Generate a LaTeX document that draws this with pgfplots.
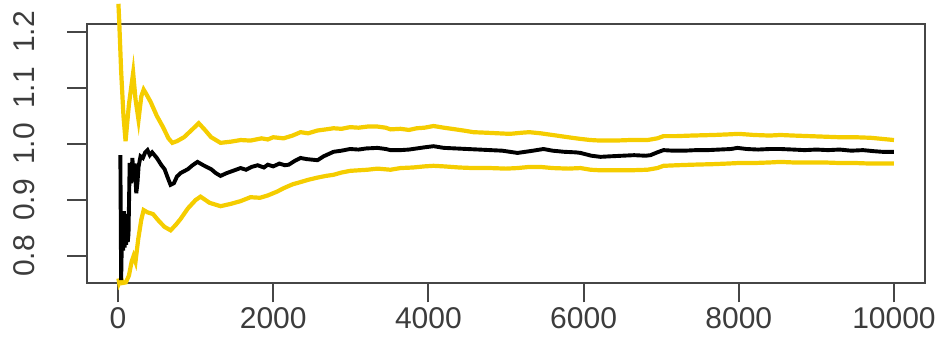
\documentclass[border=0pt]{standalone}
\usepackage{fontspec}
\setmainfont{Liberation Sans}
\usepackage{pgfplots}
\pgfplotsset{compat=1.18}
\definecolor{rgold}{RGB}{245,205,0}
\definecolor{axgray}{RGB}{70,70,70}
\definecolor{labgray}{RGB}{60,60,60}
\begin{document}
\begin{tikzpicture}
\begin{axis}[
  at={(0,0)}, anchor=south west,
  scale only axis, width=279.33pt, height=86.33pt,
  xmin=-400, xmax=10400, ymin=0.752, ymax=1.214,
  axis line style={draw=axgray, line width=0.7pt},
  xtick={0,2000,4000,6000,8000,10000},
  xticklabels={0,2000,4000,6000,8000,10000},
  ytick={0.8,0.9,1.0,1.1,1.2},
  yticklabels={0.8,0.9,1.0,1.1,1.2},
  tick align=outside, tick pos=left,
  major tick length=6.5pt,
  tick style={draw=axgray, line width=0.7pt},
  /pgf/number format/assume math mode=true,
  clip=false,
  xticklabel style={font=\fontsize{10}{12}\selectfont, text=labgray, anchor=north, yshift=2pt},
  yticklabel style={font=\fontsize{10}{12}\selectfont, text=labgray, rotate=90, anchor=south, xshift=0pt, yshift=7.5pt},
]
% upper band
\addplot[rgold, line width=1.4pt] coordinates {
(5,1.25)(15,1.22)(40,1.13)(70,1.05)(97,1.005)(140,1.07)(195,1.127)(225,1.08)(264,1.043)(300,1.085)(330,1.097)(360,1.09)(420,1.075)(500,1.05)(580,1.03)(650,1.01)(700,1.002)(760,1.005)(850,1.012)(950,1.025)(1040,1.037)(1120,1.025)(1200,1.012)(1321,1.002)(1450,1.004)(1580,1.007)(1707,1.006)(1850,1.01)(1930,1.008)(2000,1.012)(2133,1.01)(2250,1.015)(2352,1.021)(2450,1.019)(2571,1.024)(2680,1.026)(2777,1.028)(2880,1.027)(2990,1.03)(3100,1.029)(3215,1.031)(3344,1.031)(3450,1.029)(3512,1.026)(3640,1.027)(3750,1.025)(3850,1.028)(3950,1.029)(4066,1.032)(4200,1.029)(4350,1.026)(4450,1.024)(4581,1.021)(4750,1.02)(4900,1.019)(5050,1.018)(5200,1.02)(5300,1.021)(5445,1.019)(5600,1.016)(5750,1.013)(5850,1.011)(5960,1.009)(6089,1.007)(6218,1.006)(6400,1.006)(6600,1.007)(6823,1.007)(6950,1.01)(7030,1.014)(7200,1.014)(7400,1.015)(7674,1.016)(7850,1.017)(8000,1.018)(8200,1.016)(8400,1.015)(8537,1.016)(8700,1.015)(8900,1.014)(9100,1.013)(9300,1.012)(9500,1.012)(9700,1.011)(9850,1.009)(10000,1.007)
};
% lower band
\addplot[rgold, line width=1.4pt] coordinates {
(5,0.76)(15,0.752)(40,0.76)(60,0.752)(100,0.753)(140,0.765)(175,0.79)(200,0.80)(225,0.79)(260,0.83)(300,0.865)(330,0.882)(380,0.878)(450,0.875)(530,0.862)(600,0.852)(677,0.846)(740,0.855)(805,0.866)(900,0.885)(1000,0.9)(1063,0.906)(1180,0.895)(1321,0.889)(1450,0.893)(1579,0.898)(1707,0.905)(1830,0.904)(1927,0.908)(2050,0.915)(2133,0.921)(2250,0.928)(2352,0.932)(2450,0.936)(2571,0.94)(2680,0.943)(2777,0.945)(2880,0.949)(2990,0.952)(3100,0.953)(3215,0.954)(3344,0.956)(3512,0.954)(3640,0.957)(3800,0.958)(3950,0.96)(4066,0.961)(4200,0.96)(4400,0.958)(4581,0.957)(4800,0.957)(5000,0.956)(5148,0.957)(5300,0.959)(5445,0.959)(5600,0.957)(5800,0.956)(5960,0.957)(6089,0.954)(6218,0.953)(6400,0.953)(6600,0.953)(6823,0.954)(6950,0.957)(7030,0.961)(7200,0.962)(7400,0.963)(7674,0.964)(7850,0.965)(8000,0.966)(8200,0.966)(8400,0.967)(8537,0.968)(8700,0.967)(8900,0.967)(9100,0.967)(9300,0.966)(9500,0.966)(9700,0.965)(9850,0.965)(10000,0.965)
};
% running mean
\addplot[black, line width=1.3pt] coordinates {
(30,0.98)(40,0.757)(55,0.87)(65,0.81)(75,0.88)(85,0.815)(95,0.875)(105,0.82)(115,0.87)(125,0.825)(135,0.84)(150,0.966)(170,0.93)(185,0.975)(200,0.94)(215,0.965)(235,0.912)(250,0.93)(265,0.96)(290,0.978)(320,0.975)(350,0.985)(380,0.989)(410,0.98)(440,0.985)(500,0.975)(560,0.962)(600,0.955)(640,0.94)(677,0.927)(720,0.93)(760,0.942)(805,0.948)(900,0.955)(960,0.962)(1024,0.968)(1100,0.962)(1200,0.955)(1260,0.948)(1321,0.943)(1400,0.948)(1480,0.952)(1579,0.957)(1650,0.954)(1720,0.959)(1800,0.962)(1880,0.958)(1930,0.963)(2000,0.96)(2080,0.965)(2150,0.962)(2200,0.963)(2280,0.97)(2352,0.975)(2430,0.973)(2500,0.972)(2571,0.971)(2650,0.978)(2777,0.986)(2880,0.988)(2990,0.991)(3100,0.99)(3200,0.992)(3344,0.993)(3450,0.991)(3512,0.989)(3640,0.989)(3750,0.99)(3850,0.992)(3950,0.994)(4066,0.996)(4200,0.993)(4350,0.992)(4500,0.991)(4650,0.99)(4800,0.989)(4950,0.988)(5050,0.986)(5148,0.984)(5250,0.986)(5350,0.988)(5483,0.991)(5600,0.988)(5750,0.986)(5900,0.985)(5960,0.984)(6100,0.979)(6218,0.977)(6350,0.978)(6500,0.979)(6650,0.98)(6800,0.979)(6862,0.98)(6950,0.985)(7030,0.989)(7150,0.988)(7300,0.988)(7450,0.989)(7600,0.989)(7750,0.99)(7900,0.991)(7983,0.993)(8100,0.991)(8250,0.99)(8400,0.991)(8537,0.991)(8700,0.99)(8850,0.989)(9000,0.99)(9150,0.989)(9300,0.99)(9450,0.988)(9600,0.989)(9750,0.987)(9850,0.986)(10000,0.986)
};
\end{axis}
\pgfresetboundingbox
\path (-29pt,-19.67pt) rectangle (284.33pt,94.33pt);
\end{tikzpicture}
\end{document}
